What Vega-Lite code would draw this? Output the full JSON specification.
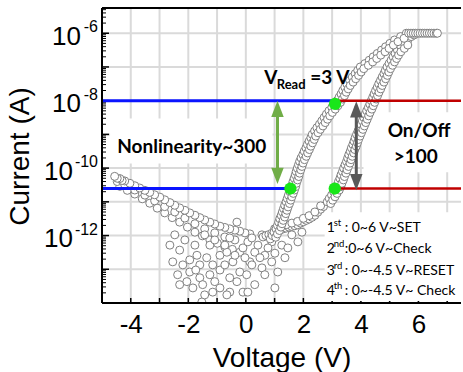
{
"$schema": "https://vega.github.io/schema/vega-lite/v6.json",
"width": 463, "height": 372,
"autosize": {"type": "fit", "contains": "padding"},
"padding": {"left": 5, "top": 7, "right": 0, "bottom": 0},
"config": {"view": {"stroke": null}},
"datasets": {
"vgrid": [{"v":-4,"i":1e-14,"i2":5.6e-6},{"v":-3,"i":1e-14,"i2":5.6e-6},{"v":-2,"i":1e-14,"i2":5.6e-6},{"v":-1,"i":1e-14,"i2":5.6e-6},{"v":0,"i":1e-14,"i2":5.6e-6},{"v":1,"i":1e-14,"i2":5.6e-6},{"v":2,"i":1e-14,"i2":5.6e-6},{"v":3,"i":1e-14,"i2":5.6e-6},{"v":4,"i":1e-14,"i2":5.6e-6},{"v":5,"i":1e-14,"i2":5.6e-6},{"v":6,"i":1e-14,"i2":5.6e-6},{"v":7,"i":1e-14,"i2":5.6e-6}],
"hgrid": [{"v":-5,"v2":7.48,"i":1e-13},{"v":-5,"v2":7.48,"i":1e-12},{"v":-5,"v2":7.48,"i":1e-11},{"v":-5,"v2":7.48,"i":1e-10},{"v":-5,"v2":7.48,"i":1e-9},{"v":-5,"v2":7.48,"i":1e-8},{"v":-5,"v2":7.48,"i":1e-7},{"v":-5,"v2":7.48,"i":1e-6}],
"xtick": [{"v":-4,"i":1e-14},{"v":-3,"i":1e-14},{"v":-2,"i":1e-14},{"v":-1,"i":1e-14},{"v":0,"i":1e-14},{"v":1,"i":1e-14},{"v":2,"i":1e-14},{"v":3,"i":1e-14},{"v":4,"i":1e-14},{"v":5,"i":1e-14},{"v":6,"i":1e-14},{"v":7,"i":1e-14}],
"ytickMajor": [{"v":-5,"i":1e-13},{"v":-5,"i":1e-12},{"v":-5,"i":1e-11},{"v":-5,"i":1e-10},{"v":-5,"i":1e-9},{"v":-5,"i":1e-8},{"v":-5,"i":1e-7},{"v":-5,"i":1e-6}],
"ytickMinor": [
{"v":-5,"i":2e-14},{"v":-5,"i":3e-14},{"v":-5,"i":4e-14},{"v":-5,"i":5e-14},{"v":-5,"i":6e-14},{"v":-5,"i":7e-14},{"v":-5,"i":8e-14},{"v":-5,"i":9e-14},
{"v":-5,"i":2e-13},{"v":-5,"i":3e-13},{"v":-5,"i":4e-13},{"v":-5,"i":5e-13},{"v":-5,"i":6e-13},{"v":-5,"i":7e-13},{"v":-5,"i":8e-13},{"v":-5,"i":9e-13},
{"v":-5,"i":2e-12},{"v":-5,"i":3e-12},{"v":-5,"i":4e-12},{"v":-5,"i":5e-12},{"v":-5,"i":6e-12},{"v":-5,"i":7e-12},{"v":-5,"i":8e-12},{"v":-5,"i":9e-12},
{"v":-5,"i":2e-11},{"v":-5,"i":3e-11},{"v":-5,"i":4e-11},{"v":-5,"i":5e-11},{"v":-5,"i":6e-11},{"v":-5,"i":7e-11},{"v":-5,"i":8e-11},{"v":-5,"i":9e-11},
{"v":-5,"i":2e-10},{"v":-5,"i":3e-10},{"v":-5,"i":4e-10},{"v":-5,"i":5e-10},{"v":-5,"i":6e-10},{"v":-5,"i":7e-10},{"v":-5,"i":8e-10},{"v":-5,"i":9e-10},
{"v":-5,"i":2e-9},{"v":-5,"i":3e-9},{"v":-5,"i":4e-9},{"v":-5,"i":5e-9},{"v":-5,"i":6e-9},{"v":-5,"i":7e-9},{"v":-5,"i":8e-9},{"v":-5,"i":9e-9},
{"v":-5,"i":2e-8},{"v":-5,"i":3e-8},{"v":-5,"i":4e-8},{"v":-5,"i":5e-8},{"v":-5,"i":6e-8},{"v":-5,"i":7e-8},{"v":-5,"i":8e-8},{"v":-5,"i":9e-8},
{"v":-5,"i":2e-7},{"v":-5,"i":3e-7},{"v":-5,"i":4e-7},{"v":-5,"i":5e-7},{"v":-5,"i":6e-7},{"v":-5,"i":7e-7},{"v":-5,"i":8e-7},{"v":-5,"i":9e-7},
{"v":-5,"i":2e-6},{"v":-5,"i":3e-6},{"v":-5,"i":4e-6},{"v":-5,"i":5e-6}],
"boxes": [{"v":-4.72,"v2":0.93,"i":2.95e-9,"i2":1.38e-10},{"v":4.09,"v2":7.48,"i":4.5e-9,"i2":7.6e-11},{"v":2.74,"v2":7.48,"i":4.9e-12,"i2":1.15e-14}],
"pts": [
{"v":-4.38,"i":2.88e-11},{"v":-4.12,"i":2.19e-11},{"v":-3.86,"i":1.7e-11},{"v":-3.6,"i":1.23e-11},{"v":-3.34,"i":9.1e-12},{"v":-3.08,"i":6.5e-12},{"v":-2.82,"i":4.7e-12},{"v":-2.56,"i":3.4e-12},{"v":-2.3,"i":2.5e-12},{"v":-2.03,"i":1.78e-12},{"v":-1.77,"i":1.26e-12},{"v":-1.51,"i":9.8e-13},{"v":-1.25,"i":7.4e-13},{"v":-0.99,"i":5.9e-13},{"v":-0.73,"i":4.6e-13},{"v":-0.47,"i":3.9e-13},{"v":-0.21,"i":3.2e-13},
{"v":-4.21,"i":3.2e-11},{"v":-3.86,"i":2.24e-11},{"v":-3.51,"i":1.58e-11},{"v":-3.17,"i":1.07e-11},{"v":-2.82,"i":7.2e-12},{"v":-2.47,"i":5e-12},{"v":-2.12,"i":3.3e-12},{"v":-1.77,"i":2.24e-12},{"v":-1.43,"i":1.58e-12},{"v":-1.08,"i":1.2e-12},{"v":-0.73,"i":9.1e-13},{"v":-0.38,"i":7.4e-13},
{"v":0.14,"i":1.12e-12},{"v":-0.03,"i":1.2e-12},{"v":-0.21,"i":1.35e-12},{"v":-0.38,"i":1.45e-12},{"v":-0.56,"i":1.58e-12},{"v":-0.73,"i":1.74e-12},{"v":-0.9,"i":1.9e-12},{"v":-1.08,"i":2.2e-12},{"v":-1.25,"i":2.5e-12},{"v":-1.43,"i":2.9e-12},{"v":-1.6,"i":3.4e-12},{"v":-1.77,"i":4e-12},{"v":-1.95,"i":4.7e-12},{"v":-2.12,"i":5.6e-12},{"v":-2.3,"i":6.6e-12},{"v":-2.47,"i":7.9e-12},{"v":-2.64,"i":9.5e-12},{"v":-2.82,"i":1.15e-11},{"v":-2.99,"i":1.38e-11},{"v":-3.17,"i":1.62e-11},{"v":-3.34,"i":1.9e-11},{"v":-3.51,"i":2.19e-11},{"v":-3.69,"i":2.57e-11},{"v":-3.86,"i":3e-11},{"v":-4.03,"i":3.55e-11},{"v":-4.21,"i":4.17e-11},{"v":-4.47,"i":4e-11},{"v":-4.3,"i":4.3e-11},{"v":-4.38,"i":4.9e-11},{"v":-4.47,"i":5e-11},{"v":-4.56,"i":5.7e-11},
{"v":-2.64,"i":5.2e-13},{"v":-2.3,"i":3.7e-13},{"v":-2.54,"i":1.66e-13},{"v":-2.19,"i":1.35e-13},{"v":-2.37,"i":6.9e-14},{"v":-1.95,"i":8.3e-14},{"v":-1.6,"i":5.6e-14},{"v":-1.84,"i":2.8e-14},{"v":-1.5,"i":3.5e-14},{"v":-1.25,"i":6.9e-14},{"v":-1.15,"i":1.35e-13},{"v":-0.9,"i":2.6e-13},{"v":-0.66,"i":3.2e-13},{"v":-0.45,"i":1.66e-13},{"v":-0.21,"i":8.3e-14},{"v":-0.31,"i":4.3e-14},{"v":0.03,"i":6.9e-14},{"v":0.14,"i":1.66e-13},{"v":-0.1,"i":4.3e-13},{"v":-0.31,"i":2.5e-12},{"v":0.07,"i":6.5e-13},{"v":-0.56,"i":8.5e-13},{"v":-1.25,"i":5.2e-13},{"v":-0.9,"i":2.8e-14},{"v":-1.15,"i":2.1e-14},{"v":-0.56,"i":2.1e-14},{"v":-0.1,"i":2.1e-14},{"v":-1.53,"i":1.07e-14},{"v":-0.66,"i":1.74e-14},{"v":-1.7,"i":2.6e-13},{"v":-1.36,"i":2.2e-13},{"v":-2.05,"i":4.3e-14},{"v":-2.3,"i":3.5e-14},{"v":0.21,"i":8.5e-13},{"v":0.56,"i":1.05e-12},{"v":0.9,"i":6.5e-13},{"v":1.25,"i":5.2e-13},{"v":0.31,"i":3.2e-13},{"v":0.66,"i":2.6e-13},{"v":1.01,"i":3e-13},{"v":1.36,"i":2.2e-13},{"v":0.21,"i":1.35e-13},{"v":0.56,"i":1.1e-13},{"v":0.9,"i":1.66e-13},{"v":1.11,"i":8.3e-14},{"v":0.66,"i":6.9e-14},{"v":0.31,"i":3.5e-14},{"v":1.01,"i":2.8e-14},{"v":0.07,"i":2.1e-14},{"v":1.46,"i":4.3e-13},{"v":1.81,"i":6.5e-13},{"v":1.6,"i":1.05e-12},{"v":1.95,"i":1.26e-12},
{"v":-2.47,"i":1.05e-12},{"v":-2.12,"i":7.4e-13},{"v":-1.77,"i":5.2e-13},{"v":-1.43,"i":1.05e-12},{"v":-1.08,"i":7.4e-13},{"v":-0.73,"i":5.2e-13},{"v":-0.38,"i":2.6e-13},{"v":-1.95,"i":1.9e-13},{"v":-1.6,"i":1.35e-13},{"v":-0.9,"i":9.5e-14},{"v":-0.56,"i":5.6e-14},{"v":-1.43,"i":1.74e-14},{"v":-1.08,"i":4.3e-14},{"v":-0.73,"i":1.35e-13},{"v":-0.03,"i":2.2e-13},{"v":0.42,"i":5.2e-13},{"v":0.77,"i":4.3e-13},{"v":0.49,"i":2.2e-13},{"v":-1.74,"i":9.5e-14},
{"v":0.6,"i":9.1e-13},{"v":0.7,"i":1e-12},{"v":0.8,"i":1.07e-12},{"v":0.9,"i":1.17e-12},{"v":1.0,"i":1.26e-12},{"v":1.1,"i":1.38e-12},{"v":1.2,"i":1.48e-12},{"v":1.3,"i":1.58e-12},{"v":1.4,"i":1.66e-12},{"v":1.5,"i":1.78e-12},{"v":1.6,"i":1.86e-12},{"v":1.7,"i":1.95e-12},{"v":1.8,"i":2.09e-12},{"v":1.9,"i":2.34e-12},{"v":2.0,"i":2.57e-12},{"v":2.1,"i":2.82e-12},{"v":2.2,"i":3.09e-12},{"v":2.3,"i":3.47e-12},{"v":2.4,"i":3.98e-12},{"v":2.5,"i":4.9e-12},{"v":2.6,"i":6.03e-12},{"v":2.7,"i":7.24e-12},
{"v":1.0,"i":1.59e-12},{"v":1.2,"i":1.86e-12},{"v":1.4,"i":2.09e-12},{"v":1.6,"i":2.34e-12},{"v":1.8,"i":2.63e-12},{"v":2.0,"i":3.24e-12},{"v":2.2,"i":3.89e-12},{"v":2.4,"i":5.01e-12},{"v":2.6,"i":7.59e-12},
{"v":2.83,"i":1e-11},{"v":2.9,"i":1.26e-11},{"v":2.98,"i":1.58e-11},{"v":3.05,"i":2e-11},{"v":3.13,"i":2.51e-11},{"v":3.18,"i":3.16e-11},{"v":3.22,"i":3.98e-11},{"v":3.27,"i":5.01e-11},{"v":3.31,"i":6.31e-11},{"v":3.36,"i":7.94e-11},{"v":3.4,"i":1e-10},{"v":3.45,"i":1.26e-10},{"v":3.5,"i":1.58e-10},{"v":3.54,"i":2e-10},{"v":3.58,"i":2.51e-10},{"v":3.63,"i":3.16e-10},{"v":3.67,"i":3.98e-10},{"v":3.72,"i":5.01e-10},{"v":3.76,"i":6.31e-10},{"v":3.8,"i":7.94e-10},{"v":3.85,"i":1e-9},{"v":3.9,"i":1.26e-9},{"v":3.95,"i":1.58e-9},{"v":4.0,"i":2e-9},{"v":4.05,"i":2.51e-9},{"v":4.1,"i":3.16e-9},{"v":4.15,"i":3.98e-9},{"v":4.2,"i":5.01e-9},{"v":4.26,"i":6.31e-9},{"v":4.31,"i":7.94e-9},{"v":4.36,"i":1e-8},{"v":4.41,"i":1.26e-8},{"v":4.46,"i":1.58e-8},{"v":4.51,"i":2e-8},{"v":4.57,"i":2.51e-8},{"v":4.62,"i":3.16e-8},{"v":4.68,"i":3.98e-8},{"v":4.74,"i":5.01e-8},{"v":4.8,"i":6.31e-8},{"v":4.85,"i":7.94e-8},{"v":4.91,"i":1e-7},{"v":4.98,"i":1.26e-7},{"v":5.05,"i":1.58e-7},{"v":5.12,"i":2e-7},{"v":5.19,"i":2.51e-7},{"v":5.27,"i":3.16e-7},{"v":5.39,"i":3.98e-7},{"v":5.51,"i":5.01e-7},{"v":5.63,"i":6.31e-7},{"v":5.75,"i":7.94e-7},{"v":5.85,"i":8.9e-7},
{"v":2.95,"i":8.91e-12},{"v":3.02,"i":1.12e-11},{"v":3.1,"i":1.41e-11},{"v":3.17,"i":1.78e-11},{"v":3.25,"i":2.24e-11},{"v":3.3,"i":2.82e-11},{"v":3.34,"i":3.55e-11},{"v":3.39,"i":4.47e-11},{"v":3.43,"i":5.62e-11},{"v":3.48,"i":7.08e-11},{"v":3.52,"i":8.91e-11},{"v":3.57,"i":1.12e-10},{"v":3.62,"i":1.41e-10},{"v":3.66,"i":1.78e-10},{"v":3.7,"i":2.24e-10},{"v":3.75,"i":2.82e-10},{"v":3.79,"i":3.55e-10},{"v":3.84,"i":4.47e-10},{"v":3.88,"i":5.62e-10},{"v":3.92,"i":7.08e-10},{"v":3.97,"i":8.91e-10},{"v":4.02,"i":1.12e-9},{"v":4.07,"i":1.41e-9},{"v":4.12,"i":1.78e-9},{"v":4.17,"i":2.24e-9},{"v":4.22,"i":2.82e-9},{"v":4.27,"i":3.55e-9},{"v":4.32,"i":4.47e-9},{"v":4.38,"i":5.62e-9},{"v":4.43,"i":7.08e-9},{"v":4.48,"i":8.91e-9},{"v":4.53,"i":1.12e-8},{"v":4.58,"i":1.41e-8},{"v":4.63,"i":1.78e-8},{"v":4.69,"i":2.24e-8},{"v":4.74,"i":2.82e-8},{"v":4.8,"i":3.55e-8},{"v":4.86,"i":4.47e-8},{"v":4.92,"i":5.62e-8},{"v":4.97,"i":7.08e-8},{"v":5.03,"i":8.91e-8},{"v":5.1,"i":1.12e-7},{"v":5.17,"i":1.41e-7},{"v":5.24,"i":1.78e-7},{"v":5.31,"i":2.24e-7},{"v":5.39,"i":2.82e-7},{"v":5.51,"i":3.55e-7},{"v":5.63,"i":4.47e-7},
{"v":0.85,"i":7.94e-13},{"v":0.92,"i":1e-12},{"v":0.98,"i":1.26e-12},{"v":1.05,"i":1.58e-12},{"v":1.1,"i":2e-12},{"v":1.14,"i":2.51e-12},{"v":1.18,"i":3.16e-12},{"v":1.23,"i":3.98e-12},{"v":1.27,"i":5.01e-12},{"v":1.31,"i":6.31e-12},{"v":1.35,"i":7.94e-12},{"v":1.4,"i":1e-11},{"v":1.44,"i":1.26e-11},{"v":1.48,"i":1.58e-11},{"v":1.53,"i":2e-11},{"v":1.57,"i":2.51e-11},{"v":1.61,"i":3.16e-11},{"v":1.64,"i":3.98e-11},{"v":1.68,"i":5.01e-11},{"v":1.72,"i":6.31e-11},{"v":1.75,"i":7.94e-11},{"v":1.79,"i":1e-10},{"v":1.83,"i":1.26e-10},{"v":1.87,"i":1.58e-10},{"v":1.92,"i":2e-10},{"v":1.98,"i":2.51e-10},{"v":2.03,"i":3.16e-10},{"v":2.09,"i":3.98e-10},{"v":2.14,"i":5.01e-10},{"v":2.2,"i":6.31e-10},{"v":2.26,"i":7.94e-10},{"v":2.31,"i":1e-9},{"v":2.39,"i":1.26e-9},{"v":2.47,"i":1.58e-9},{"v":2.56,"i":2e-9},{"v":2.64,"i":2.51e-9},{"v":2.72,"i":3.16e-9},{"v":2.8,"i":3.98e-9},{"v":2.89,"i":5.01e-9},{"v":2.99,"i":6.31e-9},{"v":3.08,"i":7.94e-9},{"v":3.17,"i":1e-8},{"v":3.24,"i":1.26e-8},{"v":3.31,"i":1.58e-8},{"v":3.37,"i":2e-8},{"v":3.44,"i":2.51e-8},{"v":3.51,"i":3.16e-8},{"v":3.61,"i":3.98e-8},{"v":3.7,"i":5.01e-8},{"v":3.8,"i":6.31e-8},{"v":3.89,"i":7.94e-8},{"v":3.98,"i":1e-7},{"v":4.14,"i":1.26e-7},{"v":4.29,"i":1.58e-7},{"v":4.43,"i":2e-7},{"v":4.57,"i":2.51e-7},{"v":4.72,"i":3.16e-7},{"v":4.86,"i":3.98e-7},{"v":5.01,"i":5.01e-7},{"v":5.17,"i":6.31e-7},{"v":5.38,"i":7.94e-7},{"v":5.58,"i":1e-6},
{"v":1.04,"i":8.91e-13},{"v":1.1,"i":1.12e-12},{"v":1.17,"i":1.41e-12},{"v":1.22,"i":1.78e-12},{"v":1.26,"i":2.24e-12},{"v":1.3,"i":2.82e-12},{"v":1.35,"i":3.55e-12},{"v":1.39,"i":4.47e-12},{"v":1.43,"i":5.62e-12},{"v":1.47,"i":7.08e-12},{"v":1.52,"i":8.91e-12},{"v":1.56,"i":1.12e-11},{"v":1.6,"i":1.41e-11},{"v":1.65,"i":1.78e-11},{"v":1.69,"i":2.24e-11},{"v":1.73,"i":2.82e-11},{"v":1.76,"i":3.55e-11},{"v":1.8,"i":4.47e-11},{"v":1.84,"i":5.62e-11},{"v":1.87,"i":7.08e-11},{"v":1.91,"i":8.91e-11},{"v":1.95,"i":1.12e-10},{"v":1.99,"i":1.41e-10},{"v":2.04,"i":1.78e-10},{"v":2.1,"i":2.24e-10},{"v":2.15,"i":2.82e-10},{"v":2.21,"i":3.55e-10},{"v":2.26,"i":4.47e-10},{"v":2.32,"i":5.62e-10},{"v":2.38,"i":7.08e-10},{"v":2.43,"i":8.91e-10},{"v":2.51,"i":1.12e-9},{"v":2.59,"i":1.41e-9},{"v":2.68,"i":1.78e-9},{"v":2.76,"i":2.24e-9},{"v":2.84,"i":2.82e-9},{"v":2.92,"i":3.55e-9},{"v":3.01,"i":4.47e-9},{"v":3.11,"i":5.62e-9},{"v":3.2,"i":7.08e-9},{"v":3.29,"i":8.91e-9},{"v":3.36,"i":1.12e-8},{"v":3.43,"i":1.41e-8},{"v":3.49,"i":1.78e-8},{"v":3.56,"i":2.24e-8},{"v":3.63,"i":2.82e-8},{"v":3.73,"i":3.55e-8},{"v":3.82,"i":4.47e-8},{"v":3.92,"i":5.62e-8},{"v":4.01,"i":7.08e-8},{"v":4.1,"i":8.91e-8},{"v":4.26,"i":1.12e-7},{"v":4.41,"i":1.41e-7},{"v":4.55,"i":1.78e-7},{"v":4.69,"i":2.24e-7},{"v":4.84,"i":2.82e-7},{"v":4.98,"i":3.55e-7},{"v":5.13,"i":4.47e-7},{"v":5.29,"i":5.62e-7},{"v":5.5,"i":7.08e-7},
{"v":5.66,"i":1e-6},{"v":5.74,"i":1e-6},{"v":5.82,"i":1e-6},{"v":5.9,"i":1e-6},{"v":5.98,"i":1e-6},{"v":6.06,"i":1e-6},{"v":6.14,"i":1e-6},{"v":6.22,"i":1e-6},{"v":6.3,"i":1e-6},{"v":6.38,"i":1e-6},{"v":6.46,"i":1e-6},{"v":6.54,"i":1e-6},{"v":6.62,"i":1e-6},{"v":6.66,"i":1e-6}
],
"blue": [{"v":-5,"v2":3.09,"i":1e-8},{"v":-5,"v2":1.55,"i":2.48e-11}],
"red": [{"v":3.09,"v2":7.48,"i":1e-8},{"v":3.09,"v2":7.48,"i":2.48e-11}],
"xline": [{"v":-5,"v2":7.48,"i":1e-14},{"v":-5,"v2":7.48,"i":5.6e-6}],
"yline": [{"v":-5,"i":1e-14,"i2":5.6e-6}],
"shafts": [{"v":1.1,"i":7e-9,"i2":4.5e-11,"c":"g"},{"v":3.84,"i":7e-9,"i2":3.2e-11,"c":"k"}],
"headsUp": [{"v":1.1,"i":1e-8,"c":"g"},{"v":3.84,"i":9.6e-9,"c":"k"}],
"headsDown": [{"v":1.1,"i":3.4e-11,"c":"g"},{"v":3.84,"i":2.2e-11,"c":"k"}],
"dots": [{"v":1.55,"i":2.48e-11},{"v":3.09,"i":2.48e-11},{"v":3.1,"i":8e-9}],
"bold": [{"v":-1.88,"i":2.9e-10,"t":"Nonlinearity~300"},{"v":6.02,"i":8.1e-10,"t":"On/Off"},{"v":5.91,"i":1.38e-10,"t":">100"}],
"vread": [{"v":0.64,"i":3.17e-8}],
"expo": [{"v":-5,"i":1e-6,"e":"-6"},{"v":-5,"i":1e-8,"e":"-8"},{"v":-5,"i":1e-10,"e":"-10"},{"v":-5,"i":1e-12,"e":"-12"}],
"leg": [{"v":2.81,"i":1.27e-12,"n":"1","s":"st","r":": 0~6 V~SET"},{"v":2.81,"i":3.05e-13,"n":"2","s":"nd","r":" :0~6 V~Check"},{"v":2.81,"i":6.84e-14,"n":"3","s":"rd","r":": 0~-4.5 V~RESET"},{"v":2.81,"i":1.76e-14,"n":"4","s":"th","r":": 0~-4.5 V~ Check"}]
},
"encoding": {
 "x": {"field": "v", "type": "quantitative", "title": "Voltage (V)", "scale": {"domain": [-5, 7.48], "nice": false, "zero": false},
  "axis": {"values": [-4,-2,0,2,4,6], "labelExpr": "datum.value == -4 ? '-4' : datum.value == -2 ? '-2' : datum.value == 0 ? '0' : datum.value == 2 ? '2' : datum.value == 4 ? '4' : '6'",
   "grid": false, "domain": false, "ticks": false,
   "labelFont": "Liberation Sans", "labelFontSize": 26, "labelColor": "#000", "labelPadding": 8,
   "titleFont": "Liberation Sans", "titleFontSize": 28, "titleFontWeight": "normal", "titleColor": "#000", "titlePadding": 7}},
 "y": {"field": "i", "type": "quantitative", "title": "Current (A)", "scale": {"type": "log", "domain": [1e-14, 5.6e-6], "nice": false},
  "axis": {"values": [1e-12,1e-10,1e-8,1e-6],
   "labelExpr": "'10'",
   "grid": false, "domain": false, "ticks": false,
   "labelFont": "Liberation Sans", "labelFontSize": 26, "labelColor": "#000",
   "labelPadding": {"condition": {"test": "datum.value < 1e-9", "value": 29.5}, "value": 21.5},
   "labelOffset": 3,
   "titleFont": "Liberation Sans", "titleFontSize": 28, "titleFontWeight": "normal", "titleColor": "#000",
   "titleX": -74, "titleY": 148, "titleBaseline": "alphabetic", "titleAlign": "center"}}
},
"layer": [
{"data": {"name": "vgrid"}, "mark": {"type": "rule", "stroke": "#dadada", "strokeWidth": 2}, "encoding": {"y2": {"field": "i2"}}},
{"data": {"name": "hgrid"}, "mark": {"type": "rule", "stroke": "#dadada", "strokeWidth": 2}, "encoding": {"x2": {"field": "v2"}}},
{"data": {"name": "xtick"}, "mark": {"type": "tick", "orient": "vertical", "size": 5, "thickness": 1.5, "color": "#000", "opacity": 1, "yOffset": -2.5}},
{"data": {"name": "ytickMajor"}, "mark": {"type": "tick", "orient": "horizontal", "size": 7, "thickness": 1.5, "color": "#000", "opacity": 1, "xOffset": 3.5}},
{"data": {"name": "ytickMinor"}, "mark": {"type": "tick", "orient": "horizontal", "size": 4, "thickness": 1, "color": "#000", "opacity": 1, "xOffset": 2}},
{"data": {"name": "boxes"}, "mark": {"type": "rect", "fill": "white"}, "encoding": {"x2": {"field": "v2"}, "y2": {"field": "i2"}}},
{"data": {"name": "pts"}, "mark": {"type": "point", "shape": "circle", "filled": true, "fill": "white", "stroke": "#808080", "strokeWidth": 1, "opacity": 1, "size": 64, "clip": true}},
{"data": {"name": "blue"}, "mark": {"type": "rule", "stroke": "#0a14ff", "strokeWidth": 3}, "encoding": {"x2": {"field": "v2"}}},
{"data": {"name": "red"}, "mark": {"type": "rule", "stroke": "#c00000", "strokeWidth": 2.5}, "encoding": {"x2": {"field": "v2"}}},
{"data": {"name": "xline"}, "mark": {"type": "rule", "stroke": "#000", "strokeWidth": 2}, "encoding": {"x2": {"field": "v2"}}},
{"data": {"name": "yline"}, "mark": {"type": "rule", "stroke": "#000", "strokeWidth": 2}, "encoding": {"y2": {"field": "i2"}}},
{"data": {"name": "shafts"}, "mark": {"type": "rule", "strokeWidth": 3},
 "encoding": {"y2": {"field": "i2"}, "color": {"field": "c", "type": "nominal", "scale": {"domain": ["g", "k"], "range": ["#70ad47", "#595959"]}, "legend": null}}},
{"data": {"name": "headsUp"}, "mark": {"type": "point", "shape": "M0,0L0.5,1.3L-0.5,1.3Z", "filled": true, "size": 625, "opacity": 1},
 "encoding": {"color": {"field": "c", "type": "nominal", "scale": {"domain": ["g", "k"], "range": ["#70ad47", "#595959"]}, "legend": null}}},
{"data": {"name": "headsDown"}, "mark": {"type": "point", "shape": "M0,0L0.5,-1.3L-0.5,-1.3Z", "filled": true, "size": 625, "opacity": 1},
 "encoding": {"color": {"field": "c", "type": "nominal", "scale": {"domain": ["g", "k"], "range": ["#70ad47", "#595959"]}, "legend": null}}},
{"data": {"name": "dots"}, "mark": {"type": "point", "shape": "circle", "filled": true, "color": "#19e619", "opacity": 1, "size": 150}},
{"data": {"name": "bold"}, "mark": {"type": "text", "font": "Lato", "fontWeight": "bold", "fontSize": 19, "color": "#000", "align": "center", "baseline": "alphabetic"},
 "encoding": {"text": {"field": "t"}}},
{"data": {"name": "vread"}, "mark": {"type": "text", "text": "V", "font": "Lato", "fontWeight": "bold", "fontSize": 19, "color": "#000", "align": "left", "baseline": "alphabetic"}},
{"data": {"name": "vread"}, "mark": {"type": "text", "text": "Read", "font": "Lato", "fontWeight": "bold", "fontSize": 13, "color": "#000", "align": "left", "baseline": "alphabetic", "dx": 12.5, "dy": 5}},
{"data": {"name": "vread"}, "mark": {"type": "text", "text": "=3 V", "font": "Lato", "fontWeight": "bold", "fontSize": 19, "color": "#000", "align": "left", "baseline": "alphabetic", "dx": 46}},
{"data": {"name": "expo"}, "mark": {"type": "text", "font": "Liberation Sans", "fontSize": 16, "color": "#000", "align": "right", "baseline": "alphabetic", "dx": -4, "dy": -1},
 "encoding": {"text": {"field": "e"}}},
{"data": {"name": "leg"}, "mark": {"type": "text", "font": "Lato", "fontSize": 14, "color": "#000", "align": "left", "baseline": "alphabetic"},
 "encoding": {"text": {"field": "n"}}},
{"data": {"name": "leg"}, "mark": {"type": "text", "font": "Lato", "fontSize": 9.5, "color": "#000", "align": "left", "baseline": "alphabetic", "dx": 7, "dy": -6},
 "encoding": {"text": {"field": "s"}}},
{"data": {"name": "leg"}, "mark": {"type": "text", "font": "Lato", "fontSize": 14, "color": "#000", "align": "left", "baseline": "alphabetic", "dx": 18},
 "encoding": {"text": {"field": "r"}}}
]
}
